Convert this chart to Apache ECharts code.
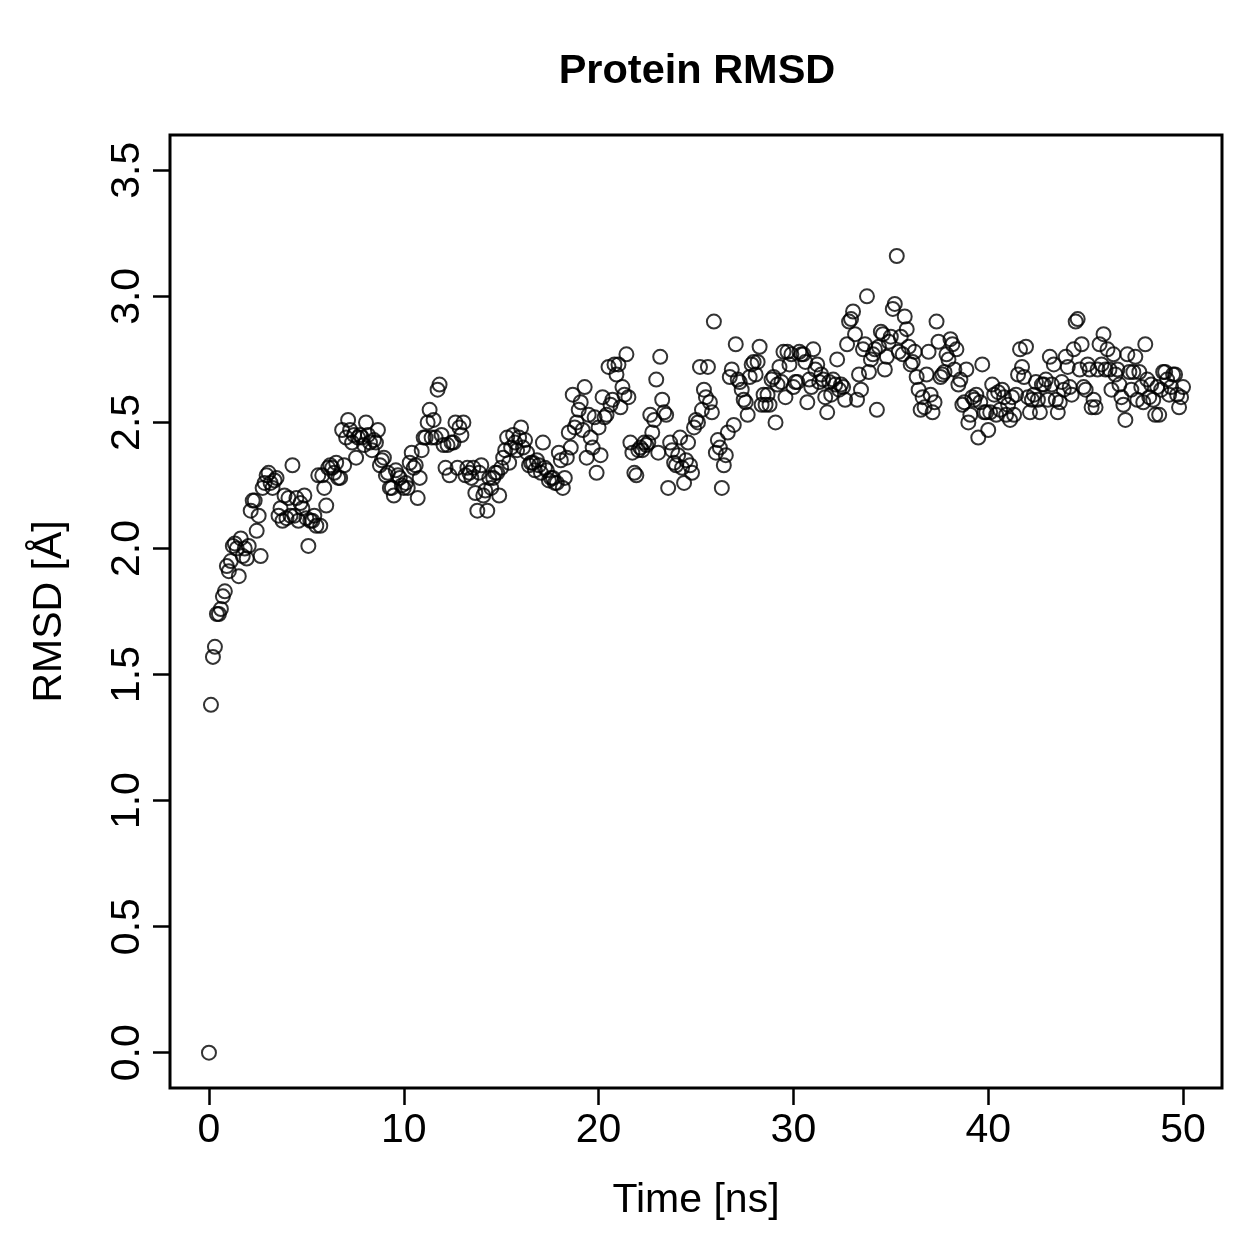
<!DOCTYPE html>
<html>
<head>
<meta charset="utf-8">
<script src="https://cdn.jsdelivr.net/npm/echarts@6/dist/echarts.min.js"></script>
<style>
html,body{margin:0;padding:0;background:#fff;}
#chart{width:1259px;height:1259px;}
</style>
</head>
<body>
<div id="chart"></div>
<script>
// RMSD values (Å), one per saved frame
const rmsd = [
0.00,1.38,1.57,1.61,1.74,1.74,1.76,1.81,1.83,1.93,
1.91,1.95,2.01,2.02,2.00,1.89,2.04,1.97,2.00,1.96,
2.01,2.15,2.19,2.19,2.07,2.13,1.97,2.24,2.26,2.29,
2.30,2.26,2.24,2.27,2.28,2.13,2.16,2.11,2.21,2.12,
2.20,2.13,2.33,2.13,2.20,2.11,2.18,2.16,2.21,2.12,
2.01,2.11,2.11,2.13,2.09,2.29,2.09,2.29,2.24,2.17,
2.32,2.33,2.32,2.30,2.34,2.28,2.28,2.47,2.33,2.44,
2.51,2.47,2.42,2.45,2.36,2.44,2.45,2.44,2.41,2.50,
2.45,2.42,2.39,2.43,2.42,2.47,2.33,2.35,2.36,2.29,
2.30,2.24,2.24,2.21,2.31,2.29,2.28,2.25,2.24,2.26,
2.24,2.34,2.38,2.32,2.33,2.20,2.28,2.39,2.44,2.44,
2.50,2.55,2.44,2.51,2.44,2.63,2.65,2.45,2.41,2.32,
2.41,2.29,2.42,2.42,2.50,2.32,2.48,2.45,2.50,2.29,
2.32,2.30,2.28,2.32,2.22,2.15,2.30,2.33,2.21,2.23,
2.15,2.28,2.24,2.28,2.30,2.30,2.21,2.32,2.36,2.39,
2.44,2.34,2.40,2.45,2.42,2.39,2.44,2.48,2.40,2.43,
2.38,2.33,2.34,2.34,2.31,2.35,2.33,2.30,2.42,2.32,
2.31,2.27,2.28,2.28,2.26,2.26,2.38,2.35,2.24,2.28,
2.36,2.46,2.40,2.61,2.48,2.50,2.55,2.58,2.47,2.64,
2.36,2.53,2.44,2.40,2.52,2.30,2.48,2.37,2.60,2.52,
2.53,2.72,2.57,2.59,2.73,2.69,2.73,2.56,2.64,2.61,
2.77,2.60,2.42,2.38,2.30,2.29,2.39,2.40,2.39,2.42,
2.41,2.42,2.53,2.46,2.51,2.67,2.38,2.76,2.59,2.54,
2.53,2.24,2.42,2.39,2.34,2.33,2.37,2.44,2.32,2.26,
2.35,2.42,2.33,2.30,2.48,2.51,2.50,2.72,2.55,2.63,
2.60,2.72,2.58,2.54,2.90,2.38,2.43,2.40,2.24,2.33,
2.37,2.46,2.68,2.71,2.49,2.81,2.67,2.66,2.63,2.59,
2.58,2.53,2.68,2.73,2.74,2.69,2.74,2.80,2.57,2.61,
2.57,2.61,2.57,2.67,2.68,2.50,2.65,2.72,2.66,2.78,
2.60,2.78,2.73,2.77,2.64,2.66,2.66,2.78,2.77,2.77,
2.74,2.58,2.67,2.64,2.79,2.71,2.73,2.66,2.69,2.67,
2.60,2.54,2.66,2.61,2.67,2.65,2.75,2.63,2.65,2.64,
2.59,2.81,2.90,2.91,2.94,2.85,2.59,2.69,2.63,2.79,
2.81,3.00,2.70,2.75,2.77,2.79,2.55,2.80,2.86,2.85,
2.71,2.76,2.82,2.84,2.95,2.97,3.16,2.78,2.84,2.77,
2.92,2.87,2.80,2.73,2.74,2.78,2.68,2.63,2.55,2.60,
2.56,2.69,2.78,2.61,2.54,2.58,2.90,2.82,2.68,2.69,
2.70,2.77,2.75,2.83,2.81,2.71,2.79,2.65,2.67,2.57,
2.58,2.71,2.50,2.53,2.60,2.59,2.61,2.44,2.58,2.73,
2.54,2.54,2.47,2.54,2.65,2.61,2.53,2.62,2.55,2.63,
2.60,2.53,2.57,2.51,2.60,2.53,2.61,2.69,2.79,2.72,
2.68,2.80,2.60,2.54,2.59,2.61,2.66,2.59,2.54,2.65,
2.65,2.67,2.59,2.76,2.65,2.73,2.59,2.54,2.58,2.66,
2.63,2.76,2.72,2.64,2.61,2.79,2.90,2.91,2.71,2.81,
2.64,2.63,2.73,2.71,2.56,2.59,2.56,2.71,2.81,2.73,
2.85,2.71,2.79,2.71,2.63,2.77,2.69,2.71,2.65,2.60,
2.57,2.51,2.77,2.70,2.63,2.70,2.76,2.59,2.70,2.64,
2.58,2.81,2.67,2.60,2.65,2.59,2.53,2.64,2.53,2.63,
2.70,2.70,2.67,2.61,2.64,2.69,2.69,2.61,2.56,2.60,
2.64
];
// simulation span (ns); frames are saved at equal intervals from start to end
const simStart = 0;
const simEnd = 50;
const xTicks = [0, 10, 20, 30, 40, 50];
const yTicks = [0.0, 0.5, 1.0, 1.5, 2.0, 2.5, 3.0, 3.5];
const titleText = 'Protein RMSD';
const xName = 'Time [ns]';
const yName = 'RMSD [Å]';

const step = (simEnd - simStart) / (rmsd.length - 1);
const points = rmsd.map((v, i) => [simStart + i * step, v]);

const FONT = '"Liberation Sans", Arial, Helvetica, sans-serif';
const chart = echarts.init(document.getElementById('chart'), null, {renderer: 'canvas'});
chart.setOption({
  animation: false,
  backgroundColor: '#ffffff',
  title: {
    text: titleText,
    left: 692,
    top: 46,
    textAlign: 'center',
    textStyle: {fontFamily: FONT, fontWeight: 'bold', fontSize: 41.5, color: '#000'}
  },
  grid: {
    left: 170, right: 37, top: 135, bottom: 171,
    show: true, borderColor: '#000', borderWidth: 3, backgroundColor: 'transparent'
  },
  xAxis: {
    type: 'value',
    min: -2, max: 52,
    splitLine: {show: false},
    axisLine: {show: false, onZero: false},
    axisTick: {show: true, length: 17, customValues: xTicks, lineStyle: {color: '#000', width: 2.5}},
    axisLabel: {customValues: xTicks, color: '#000', fontFamily: FONT, fontSize: 41, margin: 22},
    name: xName,
    nameLocation: 'middle',
    nameGap: 92,
    nameTextStyle: {color: '#000', fontFamily: FONT, fontSize: 41}
  },
  yAxis: {
    type: 'value',
    min: -0.14, max: 3.64,
    splitLine: {show: false},
    axisLine: {show: false, onZero: false},
    axisTick: {show: true, length: 17, customValues: yTicks, lineStyle: {color: '#000', width: 2.5}},
    axisLabel: {customValues: yTicks, rotate: 90, color: '#000', fontFamily: FONT, fontSize: 41, margin: 22,
      formatter: v => Number(v).toFixed(1)},
    name: yName,
    nameLocation: 'middle',
    nameRotate: 90,
    nameGap: 100,
    nameTextStyle: {color: '#000', fontFamily: FONT, fontSize: 41}
  },
  series: [{
    type: 'scatter',
    data: points,
    symbol: 'circle',
    symbolSize: 14,
    itemStyle: {color: 'rgba(0,0,0,0)', borderColor: '#000', borderWidth: 2},
    emphasis: {disabled: true}
  }]
});
</script>
</body>
</html>
